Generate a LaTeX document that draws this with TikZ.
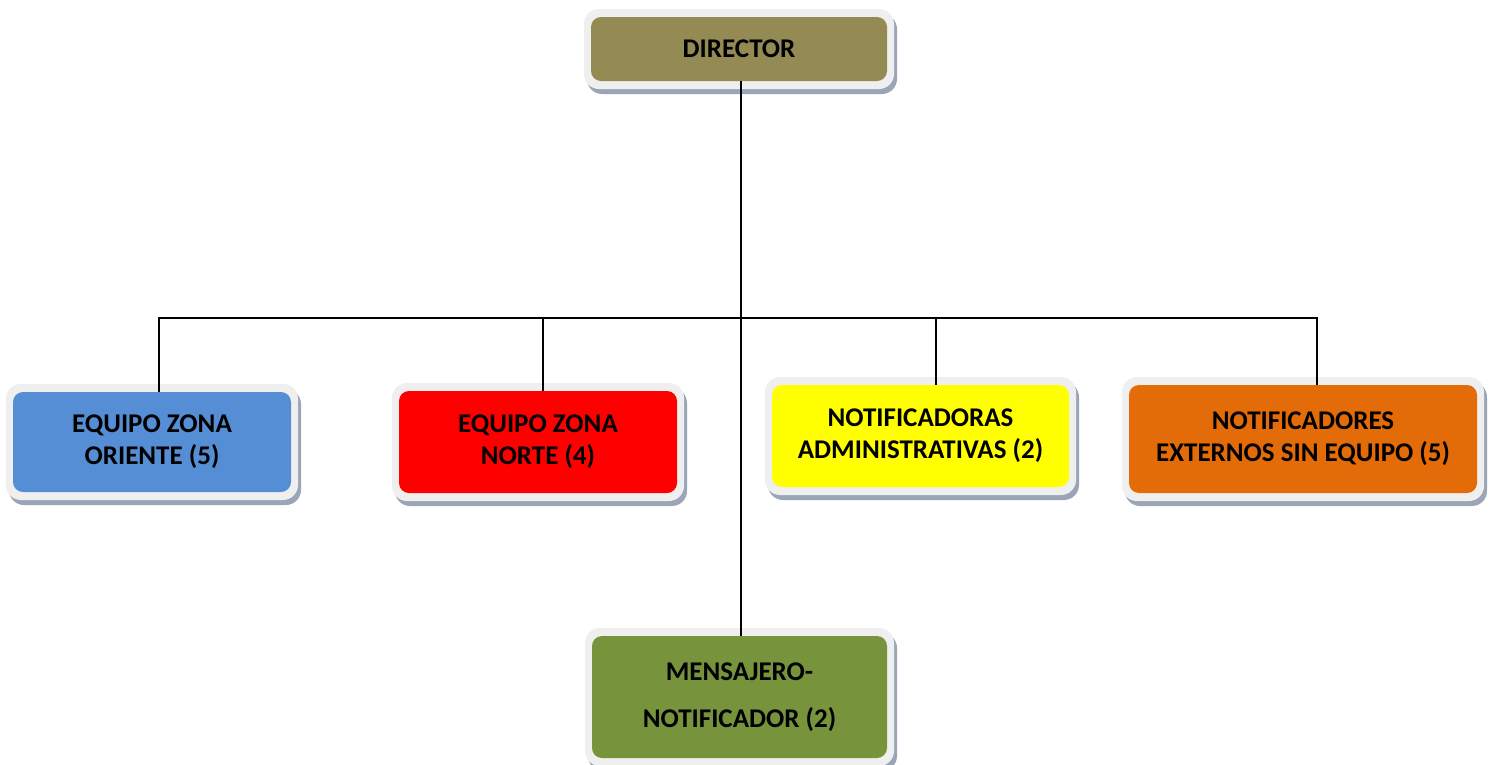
\documentclass[tikz,border=0pt]{standalone}
\usepackage{fontspec}
\setmainfont{Carlito}
\definecolor{framec}{HTML}{EFEFEF}
\definecolor{shadowc}{HTML}{9AA6B8}
\definecolor{olivec}{HTML}{948A54}
\definecolor{bluec}{HTML}{558ED5}
\definecolor{redc}{HTML}{FF0000}
\definecolor{yellowc}{HTML}{FFFF00}
\definecolor{orangec}{HTML}{E36C09}
\definecolor{greenc}{HTML}{77933C}
\tikzset{
  orgnode/.style={rounded corners=10pt, inner sep=0pt, align=center,
    font=\bfseries\fontsize{27}{32}\selectfont, text=black},
  conn/.style={line width=2pt, black},
}
\newcommand\orgbox[7]{%
  \fill[shadowc, rounded corners=15pt] ({#2-7+3},{#3-8+5}) rectangle ({#4+7+3},{#5+8+5});
  \fill[framec, rounded corners=15pt] ({#2-7},{#3-8}) rectangle ({#4+7},{#5+8});
  \node[orgnode, fill=#6, minimum width={(#4-#2)*1pt}, minimum height={(#5-#3)*1pt}]
    (#1) at ({(#2+#4)/2},{(#3+#5)/2}) {#7};
}
\begin{document}
\begin{tikzpicture}[x=1pt,y=-1pt]
\useasboundingbox[fill=white] (0,0) rectangle (1489,764);
\orgbox{director}{591}{17}{887}{81}{olivec}{DIRECTOR}
\orgbox{oriente}{13}{392}{291}{492}{bluec}{EQUIPO ZONA\\ORIENTE (5)}
\orgbox{norte}{399}{391}{677}{493}{redc}{EQUIPO ZONA\\NORTE (4)}
\orgbox{admin}{772}{385}{1069}{487}{yellowc}{NOTIFICADORAS\\ADMINISTRATIVAS (2)}
\orgbox{externos}{1129}{385}{1477}{493}{orangec}{NOTIFICADORES\\EXTERNOS SIN EQUIPO (5)}
\orgbox{mensajero}{592}{636}{887}{758}{greenc}{MENSAJERO-\\[15pt]NOTIFICADOR (2)}
\coordinate (bus) at (741,318);
\draw[conn] ([xshift=2pt]director.south) -- ([xshift=1.5pt]mensajero.north);
\draw[conn] ([xshift=7pt]oriente.north) |- (bus) -| ([xshift=14pt]externos.north);
\draw[conn] ([xshift=5pt]norte.north) -- ([xshift=5pt]norte.north |- bus);
\draw[conn] ([xshift=15pt]admin.north) -- ([xshift=15pt]admin.north |- bus);
\end{tikzpicture}
\end{document}
